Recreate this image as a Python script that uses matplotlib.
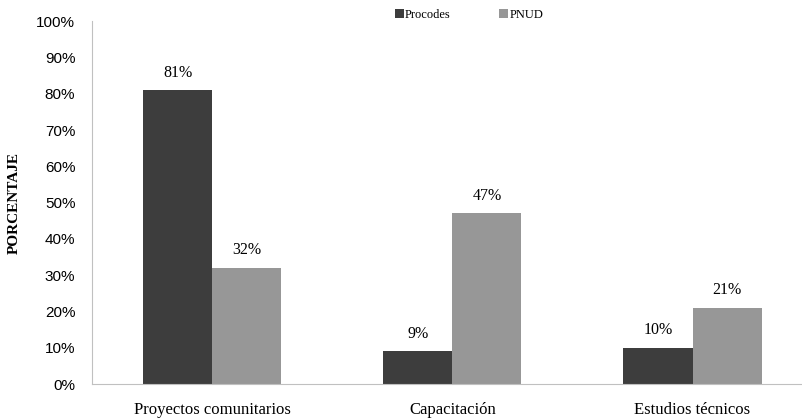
import matplotlib
matplotlib.use("Agg")
import matplotlib.pyplot as plt
import numpy as np
from matplotlib.ticker import PercentFormatter

categories = ["Proyectos comunitarios", "Capacitación", "Estudios técnicos"]
procodes = [81, 9, 10]
pnud = [32, 47, 21]
series_names = ["Procodes", "PNUD"]

fig = plt.figure(figsize=(8.03, 4.19), dpi=100)
ax = fig.add_axes([0.1146, 0.0835, 0.8854, 0.866])
x = np.arange(len(categories))
w = 0.288
c1, c2 = "#3d3d3d", "#979797"
b1 = ax.bar(x - w/2, procodes, w, color=c1, label=series_names[0])
b2 = ax.bar(x + w/2, pnud, w, color=c2, label=series_names[1])
for bars, vals in ((b1, procodes), (b2, pnud)):
    for b, v in zip(bars, vals):
        ax.text(b.get_x() + b.get_width()/2, v + 2.6, f"{v}%", ha="center", va="bottom",
                family="Liberation Serif", fontsize=11.5)
ax.set_xlim(-0.5, 2.46)
ax.set_ylim(0, 100)
ax.set_yticks(range(0, 101, 10))
ax.yaxis.set_major_formatter(PercentFormatter(decimals=0))
for lab in ax.get_yticklabels():
    lab.set_family("Liberation Sans")
    lab.set_fontsize(11)
ax.set_xticks(x)
ax.set_xticklabels(categories, family="Liberation Serif", fontsize=12)
ax.tick_params(axis="y", length=0, pad=12)
ax.tick_params(axis="x", length=0, pad=13)
for s in ("top", "right"):
    ax.spines[s].set_visible(False)
for s in ("left", "bottom"):
    ax.spines[s].set_color("#c0c0c0")
ax.set_ylabel("PORCENTAJE", family="Liberation Serif", fontweight="bold", fontsize=11, labelpad=11)
leg = fig.legend(handles=[b1, b2], loc="center", bbox_to_anchor=(0.584, 0.965), ncol=2,
                 frameon=False, prop={"family": "Liberation Serif", "size": 9},
                 handlelength=0.7, handleheight=0.7, handletextpad=0.1, columnspacing=3.9)
fig.savefig("out.png", dpi=100)
